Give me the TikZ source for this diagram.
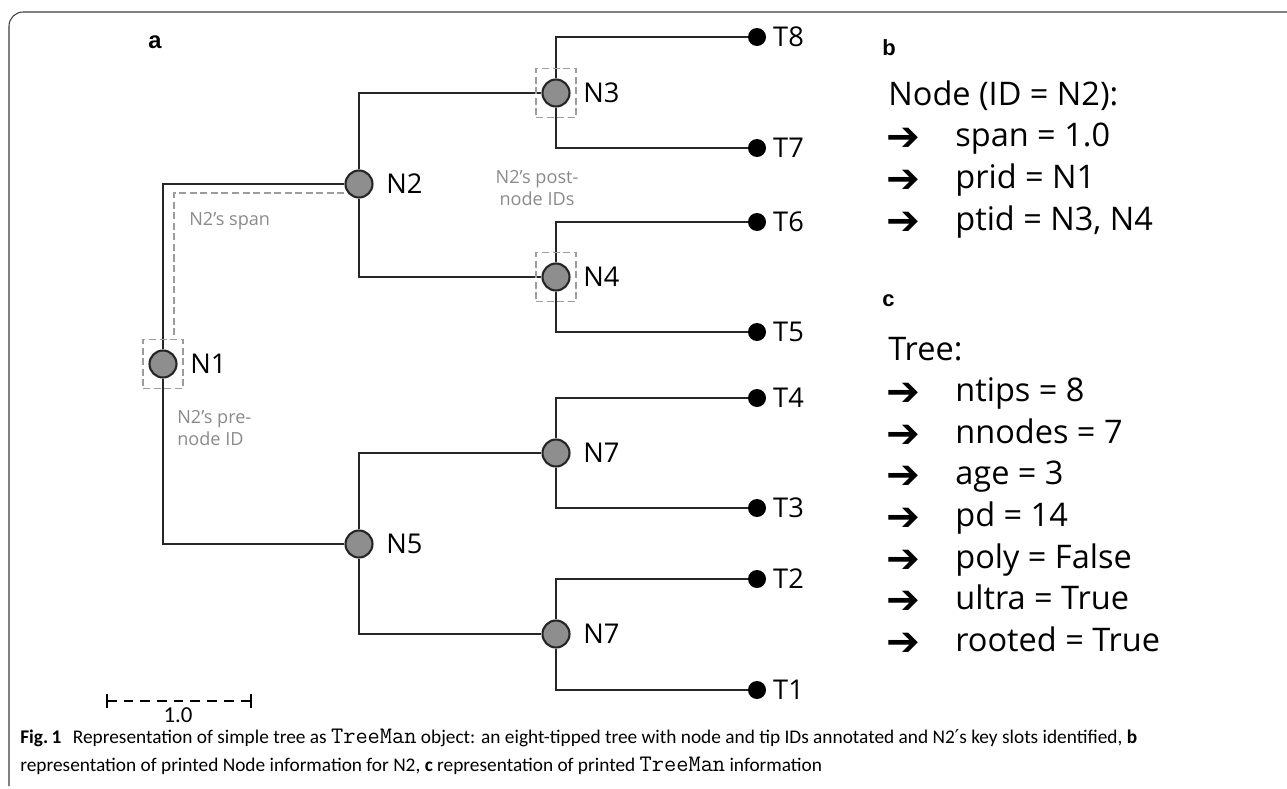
\documentclass[tikz,border=0pt]{standalone}
\usepackage{fontspec}
\setmainfont{Open Sans}
\newfontfamily\arialfont{Liberation Sans}
\newfontfamily\capfont{Carlito}
\newfontfamily\symfont{DejaVu Sans}
\usetikzlibrary{shapes,positioning,calc}

\definecolor{linedark}{HTML}{262626}
\definecolor{nodegray}{HTML}{8E8E8E}
\definecolor{notegray}{HTML}{8A8A8A}
\definecolor{dashgray}{HTML}{9C9C9C}

\tikzset{
  inode/.style={circle, draw=linedark, fill=nodegray, line width=1.2pt, minimum size=0.54cm, inner sep=0},
  tipnode/.style={circle, fill=black, minimum size=0.36cm, inner sep=0},
  branch/.style={draw=linedark, line width=1.6pt},
  nlab/.style={font=\fontsize{15.5}{18}\selectfont, inner sep=0},
  note/.style={font=\fontsize{10.3}{12}\selectfont, text=notegray, inner sep=0},
  hilite/.style={draw=dashgray, line width=0.6pt, dash pattern=on 4pt off 2pt, minimum width=0.8cm, minimum height=0.98cm, inner sep=0},
  panel/.style={font=\arialfont\bfseries\fontsize{12.5}{14}\selectfont, anchor=base west, inner sep=0},
  info/.style={font=\fontsize{18.5}{22}\selectfont, anchor=base west, inner sep=0},
  arw/.style={font=\symfont\bfseries\fontsize{23}{24}\selectfont, anchor=base west, inner sep=0},
  capt/.style={font=\capfont\fontsize{11}{13}\selectfont, anchor=base west, inner sep=0}
}
\newcommand{\codeword}[1]{{\ttfamily\fontsize{13.5}{13}\selectfont #1}}

\begin{document}
\begin{tikzpicture}[x=0.02cm, y=-0.02cm]
\useasboundingbox (0,0) rectangle (1287,788);

% frame
\draw[draw=linedark!90, line width=0.6pt, rounded corners=8pt] (9,786) |- (1287,12);

% panel letters
\node[panel, font=\arialfont\bfseries\fontsize{13.5}{14}\selectfont] (pa) at (148,48) {a};
\node[panel] (pb) at (882,55) {b};
\node[panel] (pc) at (882,306) {c};

% inner nodes
\node[inode] (n1) at (163,364) {};
\node[inode] (n2) at (359,184) {};
\node[inode] (n5) at (359,544) {};
\node[inode] (n3) at (556,93) {};
\node[inode] (n4) at (556,277) {};
\node[inode] (n7a) at (556,453) {};
\node[inode] (n7b) at (556,634) {};

% tips
\node[tipnode] (t8) at (757,37) {};
\node[tipnode] (t7) at (757,148) {};
\node[tipnode] (t6) at (757,222) {};
\node[tipnode] (t5) at (757,332) {};
\node[tipnode] (t4) at (757,398) {};
\node[tipnode] (t3) at (757,508) {};
\node[tipnode] (t2) at (757,579) {};
\node[tipnode] (t1) at (757,690) {};

% branches
\draw[branch] (n1) |- (n2);
\draw[branch] (n1) |- (n5);
\draw[branch] (n2) |- (n3);
\draw[branch] (n2) |- (n4);
\draw[branch] (n5) |- (n7a);
\draw[branch] (n5) |- (n7b);
\draw[branch] (n3) |- (t8);
\draw[branch] (n3) |- (t7);
\draw[branch] (n4) |- (t6);
\draw[branch] (n4) |- (t5);
\draw[branch] (n7a) |- (t4);
\draw[branch] (n7a) |- (t3);
\draw[branch] (n7b) |- (t2);
\draw[branch] (n7b) |- (t1);

% node labels
\node[nlab, right=0.25cm of n1, anchor=west] (n1lab) {N1};
\node[nlab, right=0.25cm of n2, anchor=west] (n2lab) {N2};
\node[nlab, right=0.25cm of n3, anchor=west] (n3lab) {N3};
\node[nlab, right=0.25cm of n4, anchor=west] (n4lab) {N4};
\node[nlab, right=0.25cm of n5, anchor=west] (n5lab) {N5};
\node[nlab, right=0.25cm of n7a, anchor=west] (n7alab) {N7};
\node[nlab, right=0.25cm of n7b, anchor=west] (n7blab) {N7};
\node[nlab, right=0.13cm of t8, anchor=west] (t8lab) {T8};
\node[nlab, right=0.13cm of t7, anchor=west] (t7lab) {T7};
\node[nlab, right=0.13cm of t6, anchor=west] (t6lab) {T6};
\node[nlab, right=0.13cm of t5, anchor=west] (t5lab) {T5};
\node[nlab, right=0.13cm of t4, anchor=west] (t4lab) {T4};
\node[nlab, right=0.13cm of t3, anchor=west] (t3lab) {T3};
\node[nlab, right=0.13cm of t2, anchor=west] (t2lab) {T2};
\node[nlab, right=0.13cm of t1, anchor=west] (t1lab) {T1};

% N2 key slots
\node[hilite] (n1box) at (n1) {};
\node[hilite] (n3box) at (n3) {};
\node[hilite] (n4box) at (n4) {};
\coordinate (spanturn) at (174,193);
\draw[draw=dashgray, line width=0.6pt, dash pattern=on 4pt off 2pt] (n2.west |- spanturn) -- (spanturn) -- (spanturn |- n1box.north);
\node[note, anchor=west] (spannote) at (189,221) {N2’s span};
\node[note, anchor=west, align=left] (prenote) at (177,428) {N2’s pre-\\node ID};
\node[note, align=center] (postnote) at (537,188) {N2’s post-\\node IDs};

% scale bar
\coordinate (sbl) at (107,701);
\coordinate (sbr) at (251,701);
\draw[line width=1.2pt, dash pattern=on 5.5pt off 4pt] (sbl) -- (sbr);
\draw[line width=1.2pt] ($(sbl)+(0,-7)$) -- ($(sbl)+(0,7)$);
\draw[line width=1.2pt] ($(sbr)+(0,-7)$) -- ($(sbr)+(0,7)$);
\node[font=\capfont\fontsize{13}{14}\selectfont, inner sep=0] (sblab) at (178,715) {1.0};

% panel b: node information
\node[info] (bhead) at (888,105) {Node (ID = N2):};
\foreach \txt [count=\i] in {span = 1.0, prid = N1, {ptid = N3, N4}} {
  \node[arw] (barw\i) at (886,{109+41.7*\i}) {➔};
  \node[info] (btxt\i) at (955,{105+41.7*\i}) {\txt};
}

% panel c: tree information
\node[info] (chead) at (888,360) {Tree:};
\foreach \txt [count=\i] in {ntips = 8, nnodes = 7, age = 3, pd = 14, poly = False, ultra = True, rooted = True} {
  \node[arw] (carw\i) at (886,{364+41.6*\i}) {➔};
  \node[info] (ctxt\i) at (955,{360+41.6*\i}) {\txt};
}

% caption
\node[capt] (capline1) at (20,743) {{\bfseries Fig.\,1}\hspace{0.6em}Representation of simple tree as \codeword{TreeMan} object: an eight-tipped tree with node and tip IDs annotated and N2{\symfont ′}s key slots identified, {\bfseries b}};
\node[capt] (capline2) at (20,771) {representation of printed Node information for N2, {\bfseries c} representation of printed \codeword{TreeMan} information};
\end{tikzpicture}
\end{document}
